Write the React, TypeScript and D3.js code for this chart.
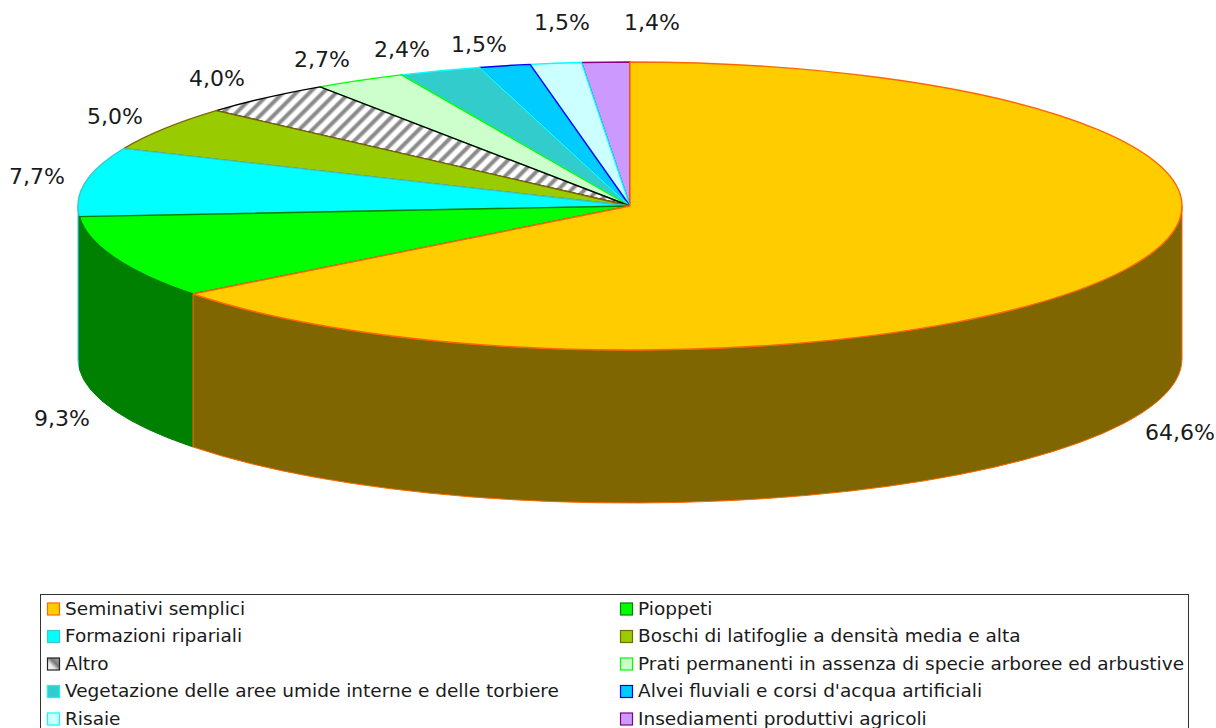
import React from "react";
import * as d3 from "d3";

const categories = ["Seminativi semplici","Pioppeti","Formazioni ripariali","Boschi di latifoglie a densità media e alta","Altro","Prati permanenti in assenza di specie arboree ed arbustive","Vegetazione delle aree umide interne e delle torbiere","Alvei fluviali e corsi d'acqua artificiali","Risaie","Insediamenti produttivi agricoli"];
const values = [64.6,9.3,7.7,5.0,4.0,2.7,2.4,1.5,1.5,1.4];
const fills = ["#FFCC00","#00FF00","#00FFFF","#99CC00","url(#hatch)","#CCFFCC","#33CCCC","#00CCFF","#CCFFFF","#CC99FF"];
const sides = ["#806600","#008000","#008080","#668800","#808080","#668066","#1A6666","#006680","#668080","#664D80"];
const strokes = ["#FF6600","#008000","#33CCCC","#806600","#000000","#00FF00","#00FFFF","#0000FF","#00FFFF","#800080"];
const labelPos: [number, number][] = [[1180,434],[62,420],[37,178],[115,118],[217,80],[322,61],[402,51],[479,46],[562,24],[652,24]];

const cx = 630, cy = 206, rx = 552, ry = 144, depth = 153;
const font = "'DejaVu Sans', Verdana, sans-serif";

export default function App() {
  const arcs = d3.pie<number>().sort(null)(values);
  const px = (a: number) => cx + rx * Math.sin(a);
  const py = (a: number) => cy - ry * Math.cos(a);
  const fmt = (v: number) => v.toFixed(1).replace(".", ",") + "%";
  const legendX = [47, 620];
  const legendRows = [609, 636.5, 664, 691.5, 719];
  return (
    <svg width={1216} height={728} style={{ position: "absolute", left: 0, top: 0, background: "#fff" }}>
      <defs>
        <pattern id="hatch" width={9.4} height={9.4} patternUnits="userSpaceOnUse" patternTransform="rotate(45)">
          <rect width={9.4} height={9.4} fill="#fff" />
          <rect x={0} width={5} height={9.4} fill="#c4c4c4" />
          <rect x={1} width={3} height={9.4} fill="#8a8a8a" />
        </pattern>
        <linearGradient id="hatchSmall" x1="0" y1="1" x2="1" y2="0">
          <stop offset="0" stopColor="#fff" />
          <stop offset="0.35" stopColor="#e8e8e8" />
          <stop offset="0.6" stopColor="#777" />
          <stop offset="1" stopColor="#aaa" />
        </linearGradient>
      </defs>
      {arcs.map((d, i) => {
        const a0 = Math.max(d.startAngle, Math.PI / 2);
        const a1 = Math.min(d.endAngle, (3 * Math.PI) / 2);
        if (a1 <= a0) return null;
        const path = `M${px(a0)},${py(a0)}A${rx},${ry} 0 0 1 ${px(a1)},${py(a1)}L${px(a1)},${py(a1) + depth}A${rx},${ry} 0 0 0 ${px(a0)},${py(a0) + depth}Z`;
        return <path key={i} d={path} fill={sides[i]} stroke={strokes[i]} strokeWidth={1} />;
      }).reverse()}
      {arcs.map((d, i) => {
        const large = d.endAngle - d.startAngle > Math.PI ? 1 : 0;
        const path = `M${cx},${cy}L${px(d.startAngle)},${py(d.startAngle)}A${rx},${ry} 0 ${large} 1 ${px(d.endAngle)},${py(d.endAngle)}Z`;
        return <path key={i} d={path} fill={fills[i]} stroke={strokes[i]} strokeWidth={1.4} strokeLinejoin="round" />;
      }).reverse()}
      {values.map((v, i) => (
        <text key={i} x={labelPos[i][0]} y={labelPos[i][1]} textAnchor="middle" dominantBaseline="middle" fontFamily={font} fontSize={22} fill="#1a1a1a">{fmt(v)}</text>
      ))}
      <rect x={40.5} y={594.5} width={1148} height={145} fill="#fff" stroke="#333" strokeWidth={1} />
      {categories.map((c, i) => {
        const col = i % 2, row = Math.floor(i / 2);
        const x = legendX[col], y = legendRows[row];
        return (
          <g key={i}>
            <rect x={x + 0.5} y={y - 6} width={12} height={12} fill={i === 4 ? "url(#hatchSmall)" : fills[i]} stroke={i === 4 ? "#222" : strokes[i]} strokeWidth={1.2} />
            <text x={x + 18} y={y + 0.5} dominantBaseline="middle" fontFamily={font} fontSize={18.5} fill="#1a1a1a">{c}</text>
          </g>
        );
      })}
    </svg>
  );
}
